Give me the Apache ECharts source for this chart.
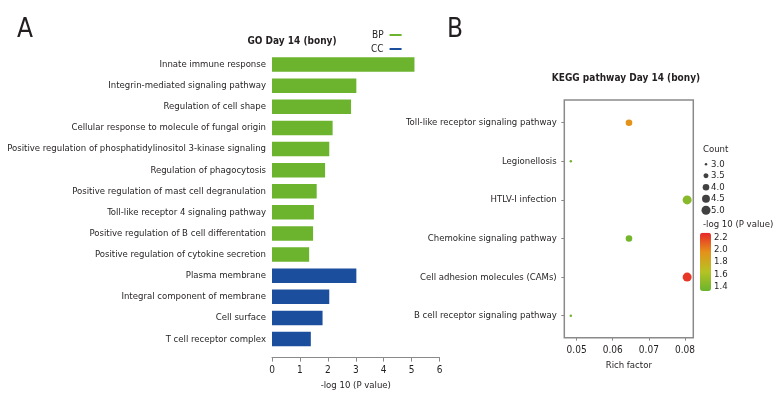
<!DOCTYPE html>
<html>
<head>
<meta charset="utf-8">
<script src="https://cdn.jsdelivr.net/npm/echarts@6/dist/echarts.min.js"></script>
<style>html,body{margin:0;padding:0;background:#fff}#c{width:780px;height:420px}</style>
</head>
<body>
<div id="c"></div>
<script>
var goCategories = ['Innate immune response','Integrin-mediated signaling pathway','Regulation of cell shape','Cellular response to molecule of fungal origin','Positive regulation of phosphatidylinositol 3-kinase signaling','Regulation of phagocytosis','Positive regulation of mast cell degranulation','Toll-like receptor 4 signaling pathway','Positive regulation of B cell differentation','Positive regulation of cytokine secretion','Plasma membrane','Integral component of membrane','Cell surface','T cell receptor complex'];
var goValues = [5.1, 3.02, 2.83, 2.17, 2.05, 1.9, 1.6, 1.5, 1.47, 1.33, 3.02, 2.05, 1.81, 1.39];
var goTypes = ['BP','BP','BP','BP','BP','BP','BP','BP','BP','BP','CC','CC','CC','CC'];

var keggCategories = ['Toll-like receptor signaling pathway','Legionellosis','HTLV-I infection','Chemokine signaling pathway','Cell adhesion molecules (CAMs)','B cell receptor signaling pathway'];
var keggRichFactor = [0.0645, 0.0484, 0.0806, 0.0645, 0.0806, 0.0484];
var keggCount = [4, 3, 5, 4, 5, 3];
var keggLogP = [1.95, 1.36, 1.45, 1.37, 2.22, 1.36];
var richTicks = [0.05, 0.06, 0.07, 0.08];
var countLegend = [3.0, 3.5, 4.0, 4.5, 5.0];
var logPTicks = [1.4, 1.6, 1.8, 2.0, 2.2];

var FONT = "'DejaVu Sans Condensed', 'Liberation Sans Narrow', sans-serif";
var FS = 9.5;
var TXT = '#231f20';
var GREEN = '#6cb42e', BLUE = '#1c4e9e';
function sizeOf(c){ return Math.sqrt(6.25 + 37.4 * (c - 3)); }

var chart = echarts.init(document.getElementById('c'), null, {renderer:'canvas'});

var bpData = goValues.map(function(v,i){ return goTypes[i]==='BP' ? v : null; });
var ccData = goValues.map(function(v,i){ return goTypes[i]==='CC' ? v : null; });
var bubbleData = keggCategories.map(function(c,i){ return [keggRichFactor[i], i, keggCount[i], keggLogP[i]]; });
var countData = countLegend.map(function(c,i){ return [0, i, c]; });

chart.setOption({
  animation: false,
  textStyle: {fontFamily: FONT, color: TXT},
  title: [
    {text:'A', left: 17, top: 17, padding: 0, textStyle:{fontFamily:FONT, fontSize:26, fontWeight:'normal', color:TXT}},
    {text:'B', left: 447, top: 17, padding: 0, textStyle:{fontFamily:FONT, fontSize:26, fontWeight:'normal', color:TXT}},
    {text:'GO Day 14 (bony)', left: 292, top: 36, padding: 0, textAlign:'center', textStyle:{fontFamily:FONT, fontSize:FS+0.5, fontWeight:'bold', color:TXT}},
    {text:'KEGG pathway Day 14 (bony)', left: 626, top: 73.5, padding: 0, textAlign:'center', textStyle:{fontFamily:FONT, fontSize:FS+0.5, fontWeight:'bold', color:TXT}},
    {text:'Count', left: 703, top: 145, padding: 0, textStyle:{fontFamily:FONT, fontSize:FS, fontWeight:'normal', color:TXT}},
    {text:'-log 10 (P value)', left: 703, top: 219.5, padding: 0, textStyle:{fontFamily:FONT, fontSize:FS, fontWeight:'normal', color:TXT}}
  ],
  legend: {
    data: ['BP','CC'], orient:'vertical', left: 371, top: 30, align:'right',
    icon:'rect', itemWidth: 12, itemHeight: 2, itemGap: 4, padding: 0,
    textStyle:{fontFamily:FONT, fontSize:FS+0.5, color:TXT, padding:[0,1,0,0]}
  },
  visualMap: {
    type:'continuous', min: 1.33, max: 2.27, dimension: 3, seriesIndex: 2,
    left: 700, top: 232.7, itemWidth: 11, itemHeight: 58.3, padding: 0,
    text: ['', ''], showLabel: false, calculable: false, hoverLink: false,
    inRange: {color: ['#6ab42d', '#b6c224', '#e4921a', '#e8262a']}
  },
  grid: [
    {left: 272, top: 54, width: 167.6, height: 295.6, outerBoundsMode:'none'},
    {left: 564.3, top: 100, width: 129, height: 237.7, show: true, borderColor: '#8a8a8a', borderWidth: 1.5, backgroundColor:'transparent', outerBoundsMode:'none'},
    {left: 564.3, top: 103.4, width: 129, height: 231.6, outerBoundsMode:'none'},
    {left: 701, top: 158.5, width: 10, height: 57.5, outerBoundsMode:'none'},
    {left: 700, top: 232.7, width: 11, height: 58.3, outerBoundsMode:'none'}
  ],
  xAxis: [
    {gridIndex:0, type:'value', min:0, max:6, interval:1, offset: 8,
     name:'-log 10 (P value)', nameLocation:'middle', nameGap: 20,
     nameTextStyle:{fontFamily:FONT, fontSize:FS, color:TXT},
     axisLine:{show:true, lineStyle:{color:'#8a8a8a', width:1}},
     axisTick:{show:true, length:4, lineStyle:{color:'#8a8a8a'}},
     axisLabel:{fontFamily:FONT, fontSize:FS+0.5, color:TXT, margin:8, formatter:function(v){return String(v);}},
     splitLine:{show:false}},
    {gridIndex:1, type:'value', min:0, max:1, show:false},
    {gridIndex:2, type:'value', min:0.0466, max:0.0823, offset: 2.7,
     name:'Rich factor', nameLocation:'middle', nameGap: 23,
     nameTextStyle:{fontFamily:FONT, fontSize:FS, color:TXT},
     axisLine:{show:false},
     axisTick:{show:true, length:3, customValues: richTicks, lineStyle:{color:'#8a8a8a'}},
     axisLabel:{fontFamily:FONT, fontSize:FS+0.5, color:TXT, margin:8, customValues: richTicks, formatter:function(v){return v.toFixed(2);}},
     splitLine:{show:false}},
    {gridIndex:3, type:'value', min:-1, max:1, show:false},
    {gridIndex:4, type:'value', min:0, max:1, show:false}
  ],
  yAxis: [
    {gridIndex:0, type:'category', data: goCategories, inverse:true,
     axisLine:{show:false}, axisTick:{show:false},
     axisLabel:{fontFamily:FONT, fontSize:FS, color:TXT, margin:6, interval:0}},
    {gridIndex:1, type:'value', min:0, max:1, show:false},
    {gridIndex:2, type:'category', data: keggCategories, inverse:true,
     axisLine:{show:false},
     axisTick:{show:true, length:3, alignWithLabel:true, lineStyle:{color:'#8a8a8a'}},
     axisLabel:{fontFamily:FONT, fontSize:FS, color:TXT, margin:7.6, interval:0}},
    {gridIndex:3, type:'category', data: countLegend.map(function(c){return c.toFixed(1);}), inverse:true, position:'right',
     axisLine:{show:false}, axisTick:{show:false},
     axisLabel:{fontFamily:FONT, fontSize:FS, color:TXT, margin:0, interval:0}},
    {gridIndex:4, type:'value', min:1.33, max:2.27, position:'right',
     axisLine:{show:false}, axisTick:{show:false}, splitLine:{show:false},
     axisLabel:{fontFamily:FONT, fontSize:FS, color:TXT, margin:3, customValues: logPTicks, formatter:function(v){return v.toFixed(1);}}}
  ],
  series: [
    {name:'BP', type:'bar', xAxisIndex:0, yAxisIndex:0, data: bpData, stack:'go', barWidth: 14.5, itemStyle:{color:GREEN}},
    {name:'CC', type:'bar', xAxisIndex:0, yAxisIndex:0, data: ccData, stack:'go', barWidth: 14.5, itemStyle:{color:BLUE}},
    {name:'KEGG', type:'scatter', xAxisIndex:2, yAxisIndex:2, data: bubbleData,
     symbolSize: function(d){ return sizeOf(d[2]); }, itemStyle:{opacity:1}},
    {name:'Count', type:'scatter', xAxisIndex:3, yAxisIndex:3, data: countData,
     symbolSize: function(d){ return sizeOf(d[2]); }, itemStyle:{color:'#111111'}}
  ]
});
</script>
</body>
</html>
